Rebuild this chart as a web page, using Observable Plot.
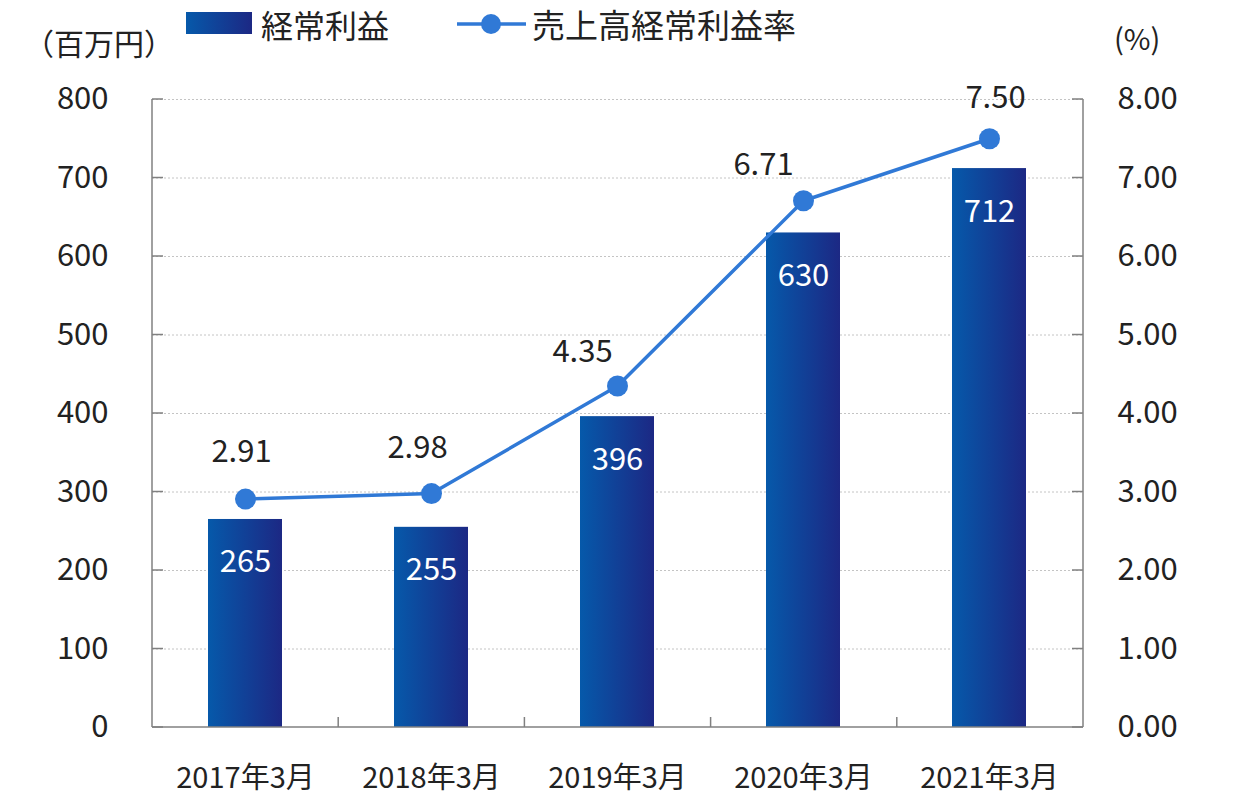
<!DOCTYPE html>
<html><head><meta charset="utf-8">
<script src="https://cdn.jsdelivr.net/npm/d3@7"></script>
<script src="https://cdn.jsdelivr.net/npm/@observablehq/plot@0.6"></script>
<style>
body{margin:0;background:#fff;font-family:'Noto Sans CJK JP','Noto Sans',sans-serif;color:#222;}
#wrap{position:relative;width:1244px;}
#head{position:relative;height:60px;}
#head .t{position:absolute;white-space:nowrap;}
</style></head><body>
<div id="wrap"><div id="head"></div><div id="chart"></div></div>
<script>
// ---- data ----
const categories = ["2017年3月", "2018年3月", "2019年3月", "2020年3月", "2021年3月"];
const ordinaryProfit = [265, 255, 396, 630, 712];          // 経常利益（百万円）
const profitRatio = [2.91, 2.98, 4.35, 6.71, 7.50];          // 売上高経常利益率（%）
const seriesNames = ["経常利益", "売上高経常利益率"];
const leftTicks = [0, 100, 200, 300, 400, 500, 600, 700, 800];
const rightTicks = [0, 1, 2, 3, 4, 5, 6, 7, 8];
const unitLabels = ["（百万円）", "(%)"];
// label nudges for the ratio labels (as placed in the original)
const ratioLabelDx = [-4, -14, -35, -40, 6];
const ratioLabelDy = [-47, -45, -34, -36, -41];

const rows = categories.map((c, i) => ({category: c, profit: ordinaryProfit[i], ratio: profitRatio[i], i}));

// ---- styles ----
const barTop = "#0659aa", barBottom = "#1c2884";
const lineColor = "#3079d6";
const axisColor = "#808080";
const gridColor = "#c4c4c4";
const textColor = "#222";
const fontFamily = "'Noto Sans CJK JP','Noto Sans',sans-serif";

// ---- header (legend & units) ----
const head = document.getElementById("head");
function addText(txt, left, cy, size) {
  const d = document.createElement("div");
  d.className = "t";
  d.textContent = txt;
  d.style.left = left + "px";
  d.style.top = (cy - size * 0.5) + "px";
  d.style.fontSize = size + "px";
  d.style.lineHeight = size + "px";
  head.appendChild(d);
}
addText(unitLabels[0], 24, 42, 30);
addText(unitLabels[1], 1114, 37, 29);
// bar legend swatch
const sw = document.createElement("div");
sw.style.cssText = `position:absolute;left:186px;top:12px;width:66px;height:22px;background:linear-gradient(to right, ${barTop}, ${barBottom});`;
head.appendChild(sw);
addText(seriesNames[0], 261, 24, 32);
// line legend
const lsvg = d3.create("svg").attr("width", 80).attr("height", 30)
  .style("position", "absolute").style("left", "455px").style("top", "9px");
lsvg.append("line").attr("x1", 2).attr("x2", 71).attr("y1", 15).attr("y2", 15).attr("stroke", lineColor).attr("stroke-width", 3.5);
lsvg.append("circle").attr("cx", 36).attr("cy", 15).attr("r", 10).attr("fill", lineColor);
head.appendChild(lsvg.node());
addText(seriesNames[1], 532, 24, 33);

// ---- chart ----
function gradientDefs() {
  const defs = d3.create("svg:defs");
  const g = defs.append("linearGradient").attr("id", "barGrad")
    .attr("x1", "0").attr("x2", "1").attr("y1", "0").attr("y2", "0");
  g.append("stop").attr("offset", "0%").attr("stop-color", barTop);
  g.append("stop").attr("offset", "100%").attr("stop-color", barBottom);
  return defs.node();
}

function frameAndTicks(index, scales, values, dims) {
  const {width, height, marginLeft, marginRight, marginTop, marginBottom} = dims;
  const x0 = marginLeft, x1 = width - marginRight, yb = height - marginBottom, yt = marginTop;
  const g = d3.create("svg:g").attr("stroke", axisColor).attr("stroke-width", 1.5).attr("fill", "none");
  g.append("line").attr("x1", x0).attr("x2", x0).attr("y1", yt).attr("y2", yb);
  g.append("line").attr("x1", x1).attr("x2", x1).attr("y1", yt).attr("y2", yb);
  g.append("line").attr("x1", x0).attr("x2", x1).attr("y1", yb).attr("y2", yb);
  for (const t of leftTicks) {
    const y = scales.y(t);
    g.append("line").attr("x1", x0).attr("x2", x0 + 11).attr("y1", y).attr("y2", y);
    g.append("line").attr("x1", x1 - 11).attr("x2", x1).attr("y1", y).attr("y2", y);
  }
  const step = (x1 - x0) / categories.length;
  for (let i = 1; i < categories.length; i++) {
    const x = x0 + i * step;
    g.append("line").attr("x1", x).attr("x2", x).attr("y1", yb).attr("y2", yb - 10);
  }
  return g.node();
}

const chart = Plot.plot({
  width: 1244,
  height: 740,
  marginTop: 39,
  marginBottom: 73,
  marginLeft: 152,
  marginRight: 161,
  style: {fontFamily, fontSize: "29px", color: textColor, background: "white"},
  x: {domain: categories, paddingInner: 0.6, paddingOuter: 0.3, label: null},
  y: {domain: [0, 800], label: null},
  marks: [
    gradientDefs,
    Plot.ruleY(leftTicks.slice(1), {stroke: gridColor, strokeDasharray: "2,2", strokeWidth: 1}),
    Plot.barY(rows, {x: "category", y: "profit", fill: "url(#barGrad)"}),
    frameAndTicks,
    Plot.axisY(leftTicks, {anchor: "left", tickSize: 0, tickPadding: 44, label: null, fontSize: 31}),
    Plot.axisY(leftTicks, {anchor: "right", tickSize: 0, tickPadding: 34, label: null, fontSize: 31,
      tickFormat: d => rightTicks[leftTicks.indexOf(d)].toFixed(2)}),
    Plot.axisX({anchor: "bottom", tickSize: 0, tickPadding: 40, label: null, fontSize: 29}),
    Plot.line(rows, {x: "category", y: d => d.ratio * 100, stroke: lineColor, strokeWidth: 3.5}),
    Plot.dot(rows, {x: "category", y: d => d.ratio * 100, r: 10.5, fill: lineColor}),
    Plot.text(rows, {x: "category", y: "profit", text: d => String(d.profit), fill: "white",
      dy: 43, lineAnchor: "middle", fontSize: 31}),
    ...rows.map(r => Plot.text([r], {x: "category", y: d => d.ratio * 100, text: d => d.ratio.toFixed(2),
      fill: textColor, dx: ratioLabelDx[r.i], dy: ratioLabelDy[r.i], lineAnchor: "middle", fontSize: 31}))
  ]
});
document.getElementById("chart").appendChild(chart);
</script>
</body></html>
